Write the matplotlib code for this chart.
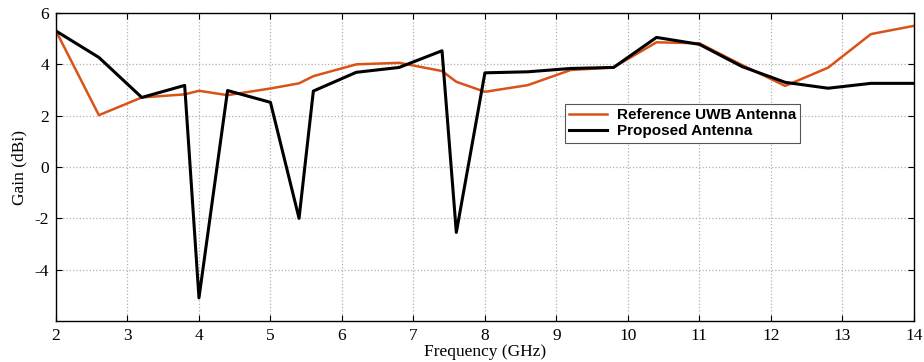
import matplotlib.pyplot as plt
import numpy as np

# Data
freq = [2.0, 2.6, 3.2, 3.8, 4.0, 4.4, 5.0, 5.4, 5.6, 6.2, 6.8, 7.4, 7.6, 8.0,
        8.6, 9.2, 9.8, 10.4, 11.0, 11.6, 12.2, 12.8, 13.4, 14.0]
ref_gain = [5.3, 2.02, 2.71, 2.83, 2.97, 2.8, 3.06, 3.26, 3.54, 4.0, 4.06, 3.74,
            3.32, 2.93, 3.19, 3.78, 3.88, 4.86, 4.82, 3.97, 3.16, 3.87, 5.18, 5.5]
prop_gain = [5.3, 4.27, 2.71, 3.18, -5.1, 2.98, 2.52, -2.0, 2.96, 3.69, 3.88, 4.53,
             -2.55, 3.67, 3.71, 3.84, 3.88, 5.05, 4.78, 3.91, 3.3, 3.07, 3.26, 3.26]
xticks = list(range(2, 15))
yticks = [-4, -2, 0, 2, 4, 6]

fig = plt.figure(figsize=(9.24, 3.62), dpi=100)
ax = fig.add_axes([0.0606, 0.1133, 0.9284, 0.8507])

ax.plot(freq, ref_gain, color="#D95319", linewidth=1.8, label="Reference UWB Antenna")
ax.plot(freq, prop_gain, color="black", linewidth=2.2, label="Proposed Antenna")

ax.set_xlim(2, 14)
ax.set_ylim(-6, 6)
ax.set_xticks(xticks)
ax.set_yticks(yticks)
ax.set_xticklabels([str(t) for t in xticks], family="Liberation Serif", fontsize=12.5)
ax.set_yticklabels([str(t) for t in yticks], family="Liberation Serif", fontsize=12.5)

ax.grid(True, color="#b0b0b0", linestyle=":", linewidth=0.9)
ax.tick_params(direction="in", top=True, right=True, length=4, width=0.8)
ax.tick_params(axis="x", pad=5)
ax.tick_params(axis="y", pad=5)
for s in ax.spines.values():
    s.set_linewidth(1.0)

ax.set_xlabel("Frequency (GHz)", family="Liberation Serif", fontsize=12.5, labelpad=0)
ax.set_ylabel("Gain (dBi)", family="Liberation Serif", fontsize=12.5, labelpad=5)

leg = ax.legend(loc="upper left", bbox_to_anchor=(0.593, 0.705), borderaxespad=0,
                prop={"family": "Liberation Sans", "weight": "bold", "size": 11},
                fancybox=False, edgecolor="#555555", framealpha=1,
                handlelength=2.5, handletextpad=0.6, borderpad=0.3,
                labelspacing=0.1)
leg.get_frame().set_linewidth(0.8)

plt.savefig("out.png", dpi=100)
